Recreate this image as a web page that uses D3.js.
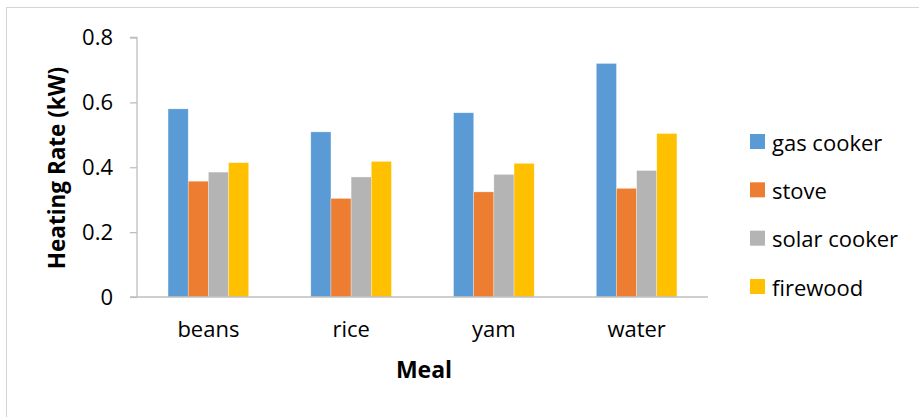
<!DOCTYPE html>
<html>
<head>
<meta charset="utf-8">
<script src="https://cdn.jsdelivr.net/npm/d3@7"></script>
<style>
  html, body { margin: 0; padding: 0; background: #fff; }
  svg { display: block; font-family: "Open Sans", sans-serif; }
</style>
</head>
<body>
<svg id="chart" width="919" height="417"></svg>
<script>
// Heating rate (kW) per meal for each cooking method
const meals = ["beans", "rice", "yam", "water"];
const methods = ["gas cooker", "stove", "solar cooker", "firewood"];
const gasCooker   = [0.580, 0.509, 0.568, 0.720];
const stove       = [0.357, 0.304, 0.324, 0.335];
const solarCooker = [0.385, 0.370, 0.378, 0.390];
const firewood    = [0.414, 0.418, 0.412, 0.504];
const yTicks = [0, 0.2, 0.4, 0.6, 0.8];
const yTickLabels = ["0", "0.2", "0.4", "0.6", "0.8"];

const seriesValues = [gasCooker, stove, solarCooker, firewood];
const colors = ["#5b9bd5", "#ed7d31", "#b4b4b4", "#ffc000"];

const svg = d3.select("#chart");

// outer chart frame
svg.append("rect")
  .attr("x", 6.5).attr("y", 7.5)
  .attr("width", 940).attr("height", 440)
  .attr("fill", "#fff").attr("stroke", "#d4d4d4").attr("stroke-width", 1);

const plot = { left: 137, right: 708, top: 37.5, bottom: 297 };

const x = d3.scaleBand()
  .domain(meals)
  .range([plot.left, plot.right])
  .paddingInner(0.435)
  .paddingOuter(0.2175);

const xs = d3.scaleBand()
  .domain(methods)
  .range([0, x.bandwidth()]);

const y = d3.scaleLinear()
  .domain([0, 0.8])
  .range([plot.bottom, plot.top]);

// bars
const groups = svg.append("g").selectAll("g")
  .data(meals)
  .join("g")
  .attr("transform", d => `translate(${x(d)},0)`);

groups.selectAll("rect")
  .data((m, i) => methods.map((s, j) => ({ s, j, v: seriesValues[j][i] })))
  .join("rect")
  .attr("x", d => xs(d.s))
  .attr("y", d => y(d.v))
  .attr("width", xs.bandwidth())
  .attr("height", d => y(0) - y(d.v))
  .attr("fill", d => colors[d.j])
  .attr("stroke", "rgba(255,255,255,0.5)")
  .attr("stroke-width", 0.6);

// y axis
const yAxis = d3.axisLeft(y)
  .tickValues(yTicks)
  .tickFormat((d, i) => yTickLabels[i])
  .tickSize(7)
  .tickPadding(17);

const gy = svg.append("g")
  .attr("transform", `translate(${plot.left},0)`)
  .call(yAxis);
gy.select(".domain").attr("stroke", "#bfbfbf").attr("stroke-width", 1.3)
  .attr("d", `M-7,${plot.top}H0V${plot.bottom}`);
gy.selectAll(".tick line").attr("stroke", "#bfbfbf").attr("stroke-width", 1.3);
gy.selectAll(".tick text")
  .attr("font-family", "'Open Sans', sans-serif")
  .attr("font-size", 22)
  .attr("fill", "#000");

// x axis
const xAxis = d3.axisBottom(x).tickSize(0).tickPadding(24);
const gx = svg.append("g")
  .attr("transform", `translate(0,${plot.bottom})`)
  .call(xAxis);
gx.select(".domain").attr("stroke", "#bfbfbf").attr("stroke-width", 1.6)
  .attr("d", `M${plot.left - 7},0H${plot.right}`);
gx.selectAll(".tick text")
  .attr("font-family", "'Open Sans', sans-serif")
  .attr("font-size", 22)
  .attr("fill", "#000")
  .attr("dy", "0.71em");

// axis titles
svg.append("text")
  .attr("x", 424).attr("y", 378)
  .attr("text-anchor", "middle")
  .attr("font-size", 23).attr("font-weight", "bold")
  .attr("fill", "#000")
  .text("Meal");

svg.append("text")
  .attr("transform", "translate(65,168) rotate(-90)")
  .attr("text-anchor", "middle")
  .attr("font-size", 22.5).attr("font-weight", "bold")
  .attr("fill", "#000")
  .text("Heating Rate (kW)");

// legend
const legendY = d3.scalePoint().domain(methods).range([141.5, 286.5]);
const legend = svg.append("g").selectAll("g")
  .data(methods)
  .join("g")
  .attr("transform", d => `translate(750,${legendY(d)})`);

legend.append("rect")
  .attr("x", 0).attr("y", -7.5)
  .attr("width", 15).attr("height", 15)
  .attr("fill", (d, i) => colors[i]);

legend.append("text")
  .attr("x", 22).attr("y", 9)
  .attr("font-size", 22)
  .attr("fill", "#000")
  .text(d => d);
</script>
</body>
</html>
